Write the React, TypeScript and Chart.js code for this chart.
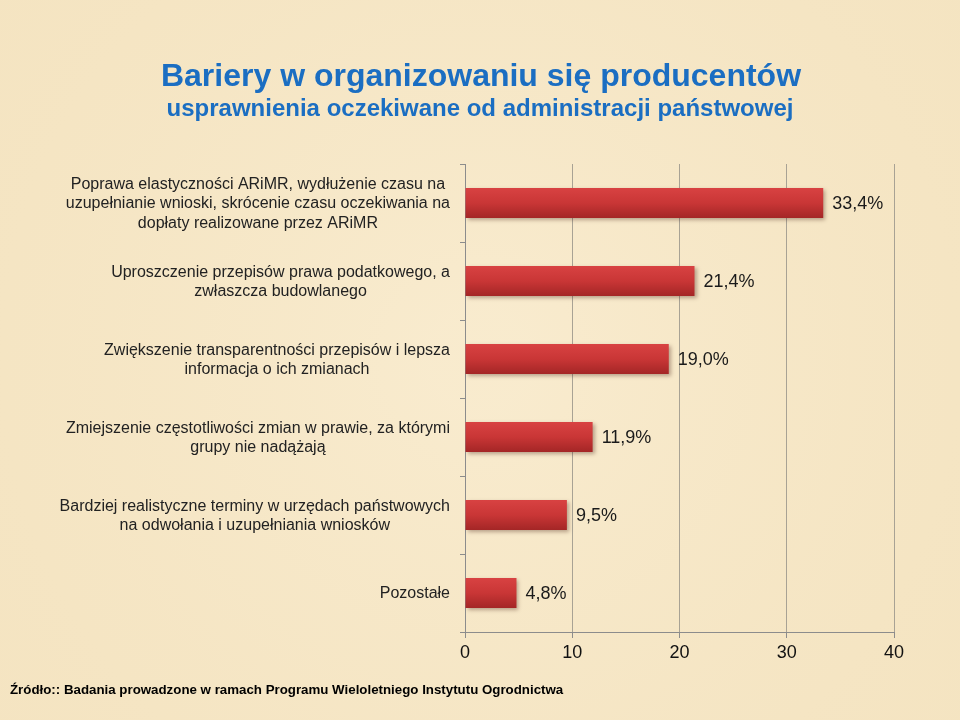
import React, { useEffect, useRef } from "react";
import { Chart, registerables } from "chart.js";

Chart.register(...registerables);

const titleText = "Bariery w organizowaniu się producentów";
const subtitleText = "usprawnienia oczekiwane od administracji państwowej";
const sourceText = "Źródło:: Badania prowadzone w ramach Programu Wieloletniego Instytutu Ogrodnictwa";

const categories: string[][] = [
  ["Poprawa elastyczności ARiMR, wydłużenie czasu na", "uzupełnianie wnioski, skrócenie czasu oczekiwania na", "dopłaty realizowane przez ARiMR"],
  ["Uproszczenie przepisów prawa podatkowego, a", "zwłaszcza budowlanego"],
  ["Zwiększenie transparentności przepisów i lepsza", "informacja o ich zmianach"],
  ["Zmiejszenie częstotliwości zmian w prawie, za którymi", "grupy nie nadążają"],
  ["Bardziej realistyczne terminy w urzędach państwowych", "na odwołania i uzupełniania wniosków"],
  ["Pozostałe"],
];

const values: number[] = [33.4, 21.4, 19.0, 11.9, 9.5, 4.8];

const xTicks: number[] = [0, 10, 20, 30, 40];

const FONT = "'Liberation Sans', Arial, sans-serif";

export default function App() {
  const canvasRef = useRef<HTMLCanvasElement | null>(null);

  useEffect(() => {
    document.body.style.margin = "0";
    const canvas = canvasRef.current;
    if (!canvas) return;

    const bgPlugin = {
      id: "bg",
      beforeDraw(chart: any) {
        const c = chart.ctx;
        c.save();
        c.fillStyle = "#f6e6c4";
        c.fillRect(0, 0, chart.width, chart.height);
        const g = c.createRadialGradient(480, 360, 50, 480, 360, 700);
        g.addColorStop(0, "rgba(250,238,212,0.6)");
        g.addColorStop(1, "rgba(240,222,184,0.3)");
        c.fillStyle = g;
        c.fillRect(0, 0, chart.width, chart.height);
        c.restore();
      },
    };

    const shadowPlugin = {
      id: "barShadow",
      beforeDatasetDraw(chart: any) {
        const c = chart.ctx;
        c.save();
        c.shadowColor = "rgba(60,20,10,0.35)";
        c.shadowBlur = 4;
        c.shadowOffsetX = 2;
        c.shadowOffsetY = 2;
      },
      afterDatasetDraw(chart: any) {
        chart.ctx.restore();
      },
    };

    const textPlugin = {
      id: "texts",
      afterDraw(chart: any) {
        const c = chart.ctx;
        const yScale = chart.scales.y;
        c.save();
        // category labels: block right aligned, lines centered
        c.font = `16px ${FONT}`;
        c.fillStyle = "#222222";
        c.textBaseline = "middle";
        c.textAlign = "center";
        const lh = 19.5;
        const right = chart.chartArea.left - 15;
        categories.forEach((lines, i) => {
          const yc = yScale.getPixelForValue(i) + 1;
          const w = Math.max(...lines.map((l) => c.measureText(l).width));
          const cx = right - w / 2;
          const y0 = yc - ((lines.length - 1) * lh) / 2;
          lines.forEach((l, k) => c.fillText(l, cx, y0 + k * lh));
        });

        // value labels
        const meta = chart.getDatasetMeta(0);
        c.font = `18px ${FONT}`;
        c.fillStyle = "#1a1a1a";
        c.textAlign = "left";
        meta.data.forEach((el: any, i: number) => {
          const txt = values[i].toFixed(1).replace(".", ",") + "%";
          c.fillText(txt, el.x + 9, el.y + 1);
        });

        // titles
        c.fillStyle = "#1b6ec2";
        c.textAlign = "center";
        c.font = `bold 32px ${FONT}`;
        c.fillText(titleText, 481, 77);
        c.font = `bold 24px ${FONT}`;
        c.fillText(subtitleText, 480, 109);

        // source
        c.fillStyle = "#000000";
        c.textAlign = "left";
        c.font = `bold 13.3px ${FONT}`;
        c.fillText(sourceText, 10, 690);
        c.restore();
      },
    };

    const chart = new Chart(canvas, {
      type: "bar",
      data: {
        labels: categories.map((l) => l.join(" ")),
        datasets: [
          {
            data: values,
            backgroundColor: (ctx: any) => {
              const ch = ctx.chart;
              if (!ch.chartArea || ctx.dataIndex === undefined) return "#c33333";
              const yc = ch.scales.y.getPixelForValue(ctx.dataIndex);
              const g = ch.ctx.createLinearGradient(0, yc - 15, 0, yc + 15);
              g.addColorStop(0, "#d84242");
              g.addColorStop(0.5, "#c93636");
              g.addColorStop(1, "#a42626");
              return g;
            },
            borderWidth: 0,
            barPercentage: 0.385,
            categoryPercentage: 1,
          },
        ],
      },
      options: {
        indexAxis: "y",
        responsive: false,
        animation: false,
        devicePixelRatio: 1,
        layout: { padding: { top: 164, right: 66, left: 0, bottom: 0 } },
        plugins: {
          legend: { display: false },
          tooltip: { enabled: false },
          title: { display: false },
        },
        scales: {
          x: {
            min: 0,
            max: 40,
            afterBuildTicks: (scale: any) => {
              scale.ticks = xTicks.map((v) => ({ value: v }));
            },
            afterFit: (scale: any) => {
              scale.height = 88;
            },
            ticks: {
              font: { family: FONT, size: 18 },
              color: "#111111",
              padding: 4,
            },
            grid: {
              color: (ctx: any) => (ctx.tick && ctx.tick.value === 0 ? "rgba(0,0,0,0)" : "#a8a294"),
              lineWidth: 1,
              tickLength: 6,
              tickColor: "#8c8c8c",
            },
            border: { color: "#8c8c8c", width: 1 },
          },
          y: {
            afterFit: (scale: any) => {
              scale.width = 465;
            },
            ticks: { display: false },
            grid: {
              drawOnChartArea: false,
              offset: true,
              tickLength: 5,
              tickColor: "#8c8c8c",
            },
            border: { color: "#8c8c8c", width: 1 },
          },
        },
      },
      plugins: [bgPlugin, shadowPlugin, textPlugin],
    } as any);

    return () => chart.destroy();
  }, []);

  return (
    <div style={{ width: 960, height: 720 }}>
      <canvas ref={canvasRef} width={960} height={720} style={{ display: "block" }} />
    </div>
  );
}
